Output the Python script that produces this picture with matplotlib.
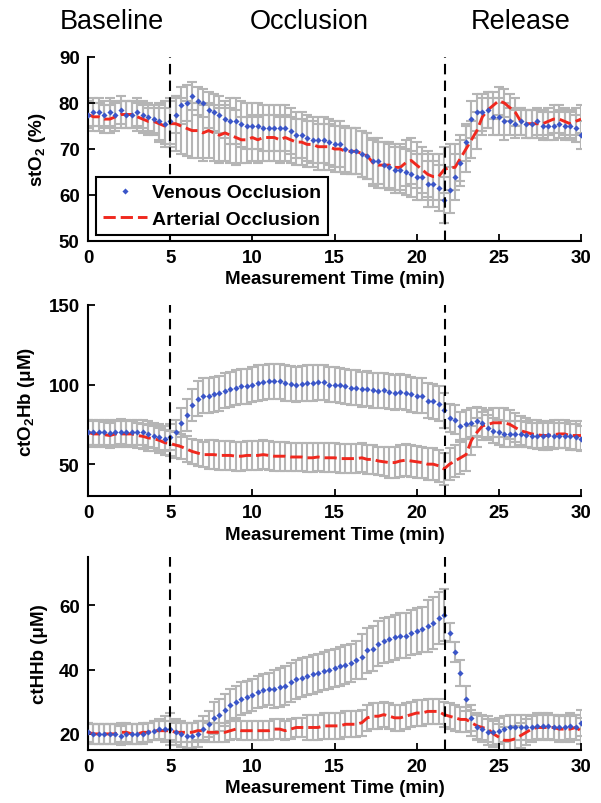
import numpy as np
import matplotlib
matplotlib.use("Agg")
import matplotlib.pyplot as plt

plt.rcParams['font.family'] = ['Liberation Sans', 'DejaVu Sans']
plt.rcParams['mathtext.default'] = 'regular'

# time axis, one sample every 20 s
t = np.linspace(0, 30, 91)
phase_lines = [5, 21.75]
phase_names = ['Baseline', 'Occlusion', 'Release']

# stO2 (%)
sto2_ven = [77.5, 78, 78, 77.5, 78, 77.5, 78.5, 77.5, 77.5, 78, 77.5, 77, 76.5, 76, 75.5,
            76, 77.5, 79.5, 80, 81.5, 80.5, 80, 78.5, 78, 77.5, 76.5, 76, 76, 75.5, 75,
            75, 75, 74.5, 74.5, 74.5, 74.5, 74.5, 74, 73, 73, 72.5, 72, 72, 72, 71.5,
            71, 71, 70, 69.5, 69.5, 69, 68.5, 67.5, 67.5, 66.5, 66, 65.5, 65.5, 65, 64.5,
            64, 64, 62.5, 62.5, 61.5, 59, 61, 64, 67, 71.5, 76.5, 78, 78, 78.5, 77,
            77, 76, 76, 75.5, 76, 75.5, 75.5, 76, 75, 75, 75, 75.5, 75, 75, 74.5,
            73]
sto2_ven_err = [3, 3, 3, 3, 3, 3, 3, 3, 3, 3, 3, 3, 3, 4, 5,
                5, 4, 4, 4, 3, 3, 3, 4, 4, 4, 4, 5, 5, 5, 5,
                5, 5, 5, 5, 5, 5, 5, 5, 5, 5, 5, 5, 5, 5, 5,
                5, 5, 5, 5, 5, 5, 5, 5, 5, 5, 5, 5, 5, 5, 5,
                5, 5, 5, 5, 5, 5, 5, 5, 5, 4, 4, 4, 4, 4, 4,
                4, 4, 3, 3, 3, 3, 3, 3, 3, 3, 3, 3, 3, 3, 3,
                3]
sto2_art = [77.5, 77, 77, 76.5, 76.5, 77, 77.5, 77.5, 77.5, 77, 76.5, 76, 76, 75.5, 75,
            75.5, 75.5, 75, 74.5, 74, 74, 73.5, 74, 73.5, 73, 73.5, 73, 72.5, 72, 72,
            72.5, 72, 72.5, 72.5, 72.5, 72, 72.5, 72, 71.5, 71.5, 71, 71, 70.5, 70.5, 70.5,
            70, 70, 69.5, 69.5, 69.5, 69, 68.5, 67, 66.5, 66.5, 66.5, 66, 66, 67, 67.5,
            66.5, 65.5, 64.5, 64, 64, 65.5, 66, 66, 68, 70, 72, 74, 77, 78.5, 79.5,
            80.5, 80, 79, 78, 76, 75.5, 75.5, 75.5, 75.5, 76, 76.5, 76.5, 76, 75.5, 76,
            76.5]
sto2_art_err = [3, 3, 3, 3, 3, 3, 3, 3, 3, 3, 3, 3, 3, 4, 4,
                5, 6, 6, 6, 6, 6, 6, 6, 6, 6, 6, 6, 6, 5, 5,
                5, 5, 5, 5, 5, 5, 5, 5, 5, 5, 5, 5, 5, 5, 5,
                5, 5, 5, 5, 5, 5, 5, 5, 5, 5, 5, 5, 5, 5, 5,
                5, 5, 5, 5, 5, 5, 5, 5, 5, 5, 4, 4, 4, 4, 3,
                3, 3, 3, 3, 3, 3, 3, 3, 3, 3, 3, 3, 3, 3, 3,
                3]

# ctO2Hb (uM)
o2hb_ven = [70, 70, 70, 70, 69.5, 70, 70.5, 70, 70, 70, 70, 69, 68, 67, 66,
            67, 70, 76, 81, 87, 91, 93, 93, 94, 94.5, 96, 97, 98, 99, 99,
            100, 101, 101.5, 102, 102, 102, 101, 100.5, 100, 100.5, 101, 101, 101.5, 101.5, 100,
            100, 99.5, 99, 98, 98, 97, 97.5, 96.5, 96, 96.5, 95.5, 95, 95.5, 95, 94,
            93, 93, 90, 89.5, 88, 84, 79, 78, 74, 75, 76, 77, 76, 73, 71,
            70, 69, 69, 69, 69, 68.5, 68, 68, 68, 68.5, 68, 68, 68, 67.5, 67,
            66]
o2hb_ven_err = [8, 8, 8, 8, 8, 8, 8, 8, 8, 8, 8, 8, 8, 8, 8,
                8, 8, 9, 10, 10, 11, 11, 11, 11, 11, 11, 11, 11, 11, 11,
                11, 11, 11, 11, 11, 11, 11, 11, 11, 11, 11, 11, 11, 11, 11,
                11, 11, 11, 11, 11, 11, 11, 11, 11, 11, 11, 11, 11, 11, 11,
                11, 11, 11, 11, 11, 11, 9, 9, 9, 9, 9, 9, 9, 8, 8,
                8, 8, 8, 8, 8, 8, 8, 8, 8, 8, 8, 8, 8, 8, 8,
                8]
o2hb_art = [70, 69, 69, 68.5, 68, 69, 69, 69, 69, 68, 67.5, 66.5, 66, 65, 63.5,
            63, 62, 61, 59.5, 58, 57, 56, 56, 56, 55.5, 55.5, 55.5, 55, 55, 55.5,
            55.5, 55.5, 56, 55.5, 55, 55, 55, 54.5, 54.5, 54.5, 54, 54, 54.5, 54, 54,
            54, 53.5, 53.5, 53.5, 53.5, 54, 53, 53, 52, 51.5, 51, 51, 52, 52.5, 52,
            51.5, 51, 50, 50, 49, 47, 50, 52, 54, 56, 65, 70, 74, 75, 76,
            76, 76, 75, 73, 71, 70, 69, 68.5, 68, 68, 68.5, 69, 69, 68, 68,
            68]
o2hb_art_err = [8, 8, 8, 8, 8, 8, 8, 8, 8, 8, 8, 8, 8, 8, 8,
                8, 8, 8, 8, 8, 8, 8, 9, 9, 9, 9, 9, 9, 9, 9,
                9, 9, 9, 9, 9, 9, 9, 9, 9, 9, 9, 9, 9, 9, 9,
                9, 9, 9, 9, 9, 9, 9, 9, 9, 9, 10, 10, 10, 10, 10,
                10, 10, 10, 10, 10, 10, 10, 10, 10, 10, 9, 9, 9, 9, 9,
                9, 9, 9, 9, 9, 9, 9, 9, 9, 9, 9, 9, 9, 9, 9,
                9]

# ctHHb (uM)
hhb_ven = [20.5, 20, 20, 20, 20, 20, 19.5, 20, 20, 20, 20, 20.5, 21, 21.5, 21.5,
           21.5, 20.5, 20, 19.5, 19.5, 20, 21.5, 23, 25, 26, 27.5, 29, 30, 31, 31.5,
           32, 33, 33.5, 34, 34, 34.5, 35, 36, 37, 37.5, 38, 38.5, 39, 39.5, 40,
           40.5, 41, 41.5, 42, 43, 44, 46, 46.5, 48, 49, 49.5, 50, 50.5, 50.5, 51.5,
           52, 52.5, 53.5, 54.5, 56, 57, 51.5, 45.5, 39, 31, 25, 22, 21.5, 20.5, 20.5,
           21, 21.5, 22, 22, 22, 22, 22, 22.5, 22.5, 22.5, 22, 22, 22, 22.5, 22,
           23.5]
hhb_ven_err = [3, 3, 3, 3, 3, 3, 3, 3, 3, 3, 3, 3, 3, 3, 4,
               5, 4, 4, 4, 4, 4, 4, 4, 5, 5, 5, 5, 5, 5, 5,
               5, 5, 5, 5, 6, 6, 6, 6, 6, 6, 6, 6, 6, 6, 6,
               6, 6, 6, 6, 6, 7, 7, 7, 7, 7, 7, 7, 7, 7, 7,
               7, 7, 8, 8, 8, 8, 3, 3, 4, 4, 4, 4, 4, 4, 4,
               4, 4, 4, 4, 4, 4, 4, 4, 4, 4, 4, 4, 4, 4, 4,
               4]
hhb_art = [20.5, 20, 20, 20, 20, 20, 20.5, 20.5, 20, 20, 20.5, 20.5, 21, 21, 21,
           21, 20.5, 20.5, 20.5, 20.5, 21, 21, 20.5, 20.5, 20.5, 20.5, 21, 21.5, 21, 21,
           21, 21, 21, 21, 21.5, 21.5, 21, 21.5, 22, 22, 22, 22, 22, 22.5, 22.5,
           22.5, 22.5, 23, 23, 23, 23.5, 25, 25.5, 25.5, 26, 25.5, 25, 25, 25.5, 26,
           26.5, 26.5, 27, 27, 27, 26, 25.5, 25, 24.5, 24.5, 23.5, 22.5, 22, 21.5, 20,
           19, 18, 18, 18.5, 19.5, 20.5, 21.5, 22, 22, 22, 22, 21.5, 21.5, 21.5, 22,
           21]
hhb_art_err = [3, 3, 3, 3, 3, 3, 3, 3, 3, 3, 3, 3, 3, 3, 3,
               3, 3, 3, 3, 3, 3, 3, 3, 3, 3, 3, 3, 3, 3, 3,
               3, 3, 3, 3, 3, 3, 3, 3, 3, 3, 4, 4, 4, 4, 4,
               4, 4, 4, 4, 4, 4, 4, 4, 4, 4, 4, 4, 4, 4, 4,
               4, 4, 4, 4, 4, 4, 4, 4, 4, 4, 4, 4, 4, 4, 4,
               4, 4, 4, 4, 4, 4, 4, 4, 4, 4, 4, 4, 4, 4, 4,
               4]

panels = [
    (sto2_ven, sto2_ven_err, sto2_art, sto2_art_err, 'stO$_2$ (%)', (50, 90), [50, 60, 70, 80, 90]),
    (o2hb_ven, o2hb_ven_err, o2hb_art, o2hb_art_err, 'ctO$_2$Hb (\u03bcM)', (30, 150), [50, 100, 150]),
    (hhb_ven, hhb_ven_err, hhb_art, hhb_art_err, 'ctHHb (\u03bcM)', (15, 75), [20, 40, 60]),
]
# axes boxes in pixels: top, bottom
boxes = [(58, 242), (306, 497), (558, 751)]

W, H = 601, 804
fig = plt.figure(figsize=(W / 100, H / 100), dpi=100)

gray = '#b5b5b5'
blue = '#3a55c8'
red = '#f0281e'

for (ven, ven_e, art, art_e, ylab, ylim, yt), (top, bot) in zip(panels, boxes):
    ax = fig.add_axes([88 / W, 1 - bot / H, 493 / W, (bot - top) / H])
    ax.errorbar(t, art, yerr=art_e, fmt='none', ecolor=gray, elinewidth=1.5,
                capsize=3.5, capthick=1.5, zorder=1)
    ax.errorbar(t, ven, yerr=ven_e, fmt='none', ecolor=gray, elinewidth=1.5,
                capsize=3.5, capthick=1.5, zorder=1)
    ax.plot(t, art, color=red, lw=2.1, dashes=(4.2, 1.7), zorder=3,
            label='Arterial Occlusion')
    ax.plot(t, ven, 'D', color=blue, ms=3.1, mew=0, zorder=4,
            label='Venous Occlusion')
    for xl in phase_lines:
        ax.axvline(xl, color='black', lw=1.5, dashes=(5, 3), zorder=5)
    ax.set_xlim(0, 30)
    ax.set_ylim(*ylim)
    ax.set_xticks(range(0, 31, 5))
    ax.set_yticks(yt)
    for s in ['top', 'right']:
        ax.spines[s].set_visible(False)
    for s in ['left', 'bottom']:
        ax.spines[s].set_linewidth(1.5)
    ax.tick_params(direction='in', length=5, width=1.3, labelsize=13.5, pad=6)
    for lab in ax.get_xticklabels() + ax.get_yticklabels():
        lab.set_fontweight('bold')
    ax.set_xlabel('Measurement Time (min)', fontsize=13.5, fontweight='bold', labelpad=3)
    ax.set_ylabel(ylab, fontsize=13.5, fontweight='bold', labelpad=8)
    if top == 58:
        h, l = ax.get_legend_handles_labels()
        leg = ax.legend(h[::-1], l[::-1], loc='lower left', bbox_to_anchor=(0.016, 0.035),
                        fancybox=False, edgecolor='black', framealpha=1,
                        prop={'weight': 'bold', 'size': 14}, handlelength=2.3,
                        handletextpad=0.25, borderpad=0.35, labelspacing=0.45,
                        borderaxespad=0, markerscale=1.0)
        leg.get_frame().set_linewidth(1.5)

for name, xc in zip(phase_names, [112, 309, 521]):
    fig.text(xc / W, 1 - 22 / H, name, ha='center', va='center', fontsize=19.5)

fig.savefig('out.png', dpi=100)
